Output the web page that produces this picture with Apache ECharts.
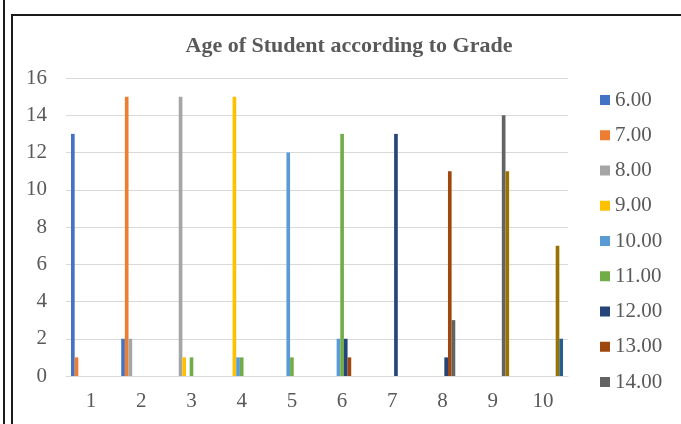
<!DOCTYPE html>
<html>
<head>
<meta charset="utf-8">
<script src="https://cdn.jsdelivr.net/npm/echarts@6/dist/echarts.min.js"></script>
<style>
  html, body { margin: 0; padding: 0; background: #ffffff; }
  #chart { width: 681px; height: 424px; }
</style>
</head>
<body>
<div id="chart"></div>
<script>
// Grade numbers along the horizontal axis
const grades = ['1', '2', '3', '4', '5', '6', '7', '8', '9', '10'];

// Number of students of each age in every grade
const age6  = [13, 2, 0, 0, 0, 0, 0, 0, 0, 0];
const age7  = [1, 15, 0, 0, 0, 0, 0, 0, 0, 0];
const age8  = [0, 2, 15, 0, 0, 0, 0, 0, 0, 0];
const age9  = [0, 0, 1, 15, 0, 0, 0, 0, 0, 0];
const age10 = [0, 0, 0, 1, 12, 2, 0, 0, 0, 0];
const age11 = [0, 0, 1, 1, 1, 13, 0, 0, 0, 0];
const age12 = [0, 0, 0, 0, 0, 2, 13, 1, 0, 0];
const age13 = [0, 0, 0, 0, 0, 1, 0, 11, 0, 0];
const age14 = [0, 0, 0, 0, 0, 0, 0, 3, 14, 0];
const age15 = [0, 0, 0, 0, 0, 0, 0, 0, 11, 7];
const age16 = [0, 0, 0, 0, 0, 0, 0, 0, 0, 2];

const ageNames = ['6.00', '7.00', '8.00', '9.00', '10.00', '11.00', '12.00', '13.00', '14.00', '15.00', '16.00'];
const ageValues = [age6, age7, age8, age9, age10, age11, age12, age13, age14, age15, age16];
const ageColors = ['#4472C4', '#ED7D31', '#A5A5A5', '#FFC000', '#5B9BD5', '#70AD47',
                   '#264478', '#9E480E', '#636363', '#997300', '#255E91'];

// Only the first nine ages fit in the legend column
const legendNames = ageNames.slice(0, 9);

const serif = '"Liberation Serif", "Times New Roman", serif';
const textGrey = '#595959';

const chart = echarts.init(document.getElementById('chart'), null, { renderer: 'canvas' });

const series = ageNames.map((name, i) => ({
  name: name,
  type: 'bar',
  data: ageValues[i],
  itemStyle: { color: ageColors[i] },
  barGap: '0%',
  barCategoryGap: '20%'
}));

chart.setOption({
  animation: false,
  backgroundColor: '#ffffff',
  title: {
    text: 'Age of Student according to Grade',
    left: 344,
    textAlign: 'center',
    top: 30,
    textStyle: { fontFamily: serif, fontSize: 22, fontWeight: 'bold', color: textGrey }
  },
  legend: {
    data: legendNames,
    orient: 'vertical',
    left: 595,
    top: 84,
    itemWidth: 10,
    itemHeight: 10,
    itemGap: 13.25,
    icon: 'rect',
    textStyle: { fontFamily: serif, fontSize: 21, color: textGrey, lineHeight: 22 }
  },
  grid: { left: 66, right: 113, top: 78, bottom: 48 },
  xAxis: {
    type: 'category',
    data: grades,
    axisLine: { lineStyle: { color: '#D9D9D9', width: 1 } },
    axisTick: { show: false },
    axisLabel: { fontFamily: serif, fontSize: 21, color: textGrey, margin: 15 }
  },
  yAxis: {
    type: 'value',
    min: 0,
    max: 16,
    interval: 2,
    axisLine: { show: false },
    axisTick: { show: false },
    splitLine: { lineStyle: { color: '#D9D9D9', width: 1 } },
    axisLabel: { fontFamily: serif, fontSize: 21, color: textGrey, margin: 19 }
  },
  graphic: [
    {
      type: 'line',
      shape: { x1: 4, y1: 0, x2: 4, y2: 424 },
      style: { stroke: '#1a1a1a', lineWidth: 2 }
    },
    {
      type: 'polyline',
      shape: { points: [[12, 424], [12, 15], [681, 15]] },
      style: { stroke: '#1a1a1a', lineWidth: 2, fill: null }
    }
  ],
  series: series
});
</script>
</body>
</html>
